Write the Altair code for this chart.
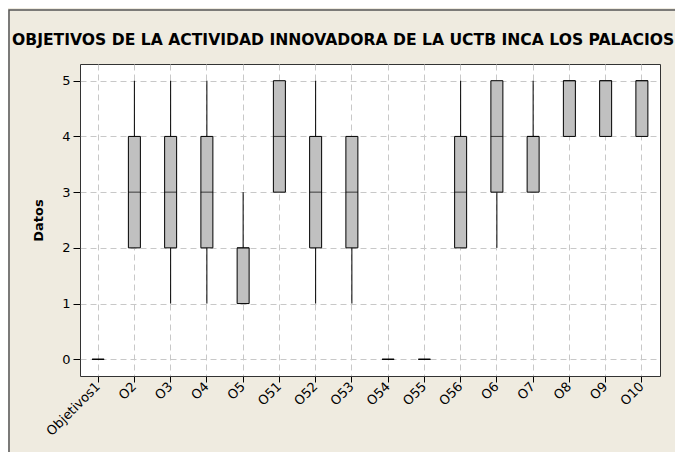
import altair as alt
import pandas as pd

categories = ["Objetivos1", "O2", "O3", "O4", "O5", "O51", "O52", "O53",
              "O54", "O55", "O56", "O6", "O7", "O8", "O9", "O10"]
mins    = [0, 2, 1, 1, 1, 3, 1, 1, 0, 0, 2, 2, 3, 4, 4, 4]
q1s     = [0, 2, 2, 2, 1, 3, 2, 2, 0, 0, 2, 3, 3, 4, 4, 4]
medians = [0, 3, 3, 3, 2, 4, 3, 3, 0, 0, 3, 4, 4, 5, 5, 5]
q3s     = [0, 4, 4, 4, 2, 5, 4, 4, 0, 0, 4, 5, 4, 5, 5, 5]
maxs    = [0, 5, 5, 5, 3, 5, 5, 4, 0, 0, 5, 5, 5, 5, 5, 5]

df = pd.DataFrame({"cat": categories, "mn": mins, "q1": q1s,
                   "med": medians, "q3": q3s, "mx": maxs})

W, H = 580, 312
FONT = "DejaVu Sans"

x = alt.X("cat:N", sort=categories,
          scale=alt.Scale(paddingInner=0, paddingOuter=0),
          axis=alt.Axis(title=None, labelAngle=-45, labelAlign="right",
                        labelBaseline="middle", labelPadding=2,
                        tickSize=6, tickColor="black", domain=False,
                        labelFont=FONT, labelFontSize=13, labelColor="black",
                        grid=True, gridColor="#c8c8c8", gridDash=[6, 4]))
yscale = alt.Scale(domain=[-0.3, 5.3], nice=False, zero=False)
yaxis = alt.Axis(title="Datos", values=[0, 1, 2, 3, 4, 5], tickSize=7,
                 tickColor="black", labelPadding=3, domain=False,
                 labelFont=FONT, labelFontSize=13, labelColor="black",
                 titleFont=FONT, titleFontSize=13, titleFontWeight="bold",
                 titleColor="black", titlePadding=16,
                 grid=True, gridColor="#c8c8c8", gridDash=[6, 4])

base = alt.Chart(df)

lower = base.mark_rule(color="black", strokeWidth=1).encode(
    x=x, y=alt.Y("mn:Q", scale=yscale, axis=yaxis), y2="q1:Q")
upper = base.mark_rule(color="black", strokeWidth=1).encode(
    x=x, y=alt.Y("q3:Q", scale=yscale, axis=yaxis), y2="mx:Q")
box = base.mark_bar(size=12, fill="#c0c0c0", stroke="black",
                    strokeWidth=1).encode(
    x=x, y=alt.Y("q1:Q", scale=yscale, axis=yaxis), y2="q3:Q")
median = base.mark_tick(size=12, thickness=1, color="black").encode(
    x=x, y=alt.Y("med:Q", scale=yscale, axis=yaxis))

frame = alt.Chart(pd.DataFrame({"a": [0]})).mark_rect(
    fill="transparent", stroke="#555555", strokeWidth=1.5).encode(
    x=alt.value(-71), x2=alt.value(W + 40),
    y=alt.value(-54), y2=alt.value(H + 100))

chart = alt.layer(lower, upper, box, median, frame).properties(
    width=W, height=H,
    title=alt.TitleParams(
        "OBJETIVOS DE LA ACTIVIDAD INNOVADORA DE LA UCTB INCA LOS PALACIOS",
        font=FONT, fontSize=15.6, fontWeight="bold", color="black",
        anchor="start", frame="group", dx=-68, offset=25, dy=76,
        baseline="alphabetic"),
    autosize=alt.AutoSizeParams(type="none"),
    padding={"left": 72, "top": 56, "right": 15, "bottom": 76},
    background="#efebe0",
).configure_view(stroke="#333333", strokeWidth=1, fill="white")

chart.save("out.html", embed_options={"renderer": "svg", "actions": False})
